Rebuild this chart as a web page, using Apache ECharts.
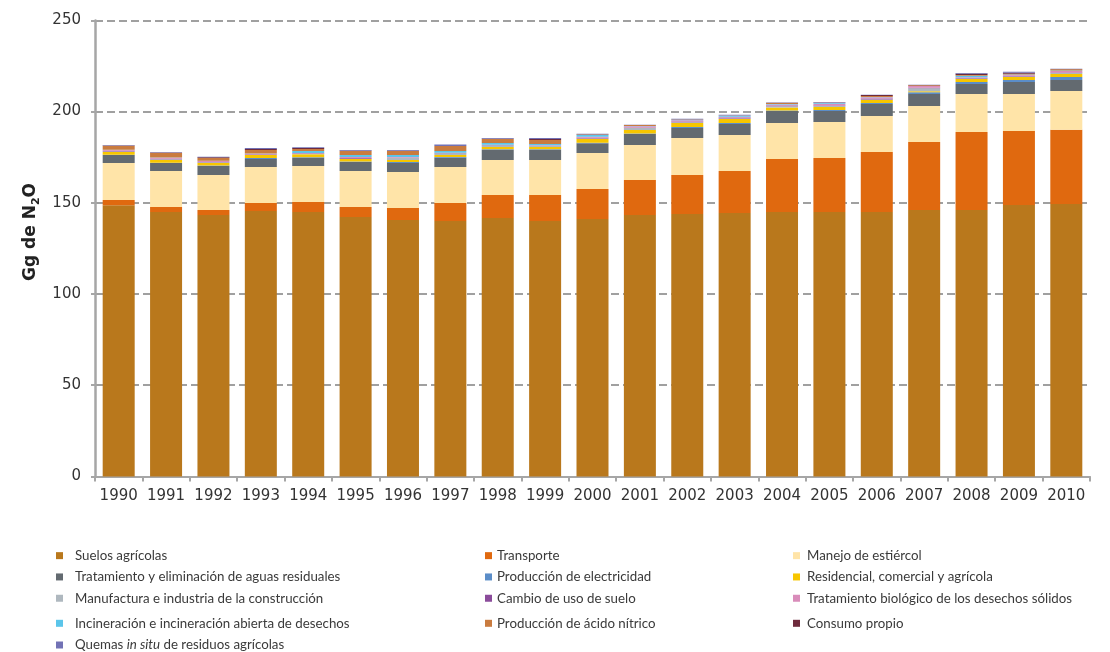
<!DOCTYPE html>
<html>
<head>
<meta charset="utf-8">
<script src="https://cdn.jsdelivr.net/npm/echarts@6/dist/echarts.min.js"></script>
<style>
  html, body { margin: 0; padding: 0; background: #fff; }
  #chart { width: 1110px; height: 652px; }
</style>
</head>
<body>
<div id="chart"></div>
<script>
  // años del inventario
  const years = ['1990','1991','1992','1993','1994','1995','1996','1997','1998','1999','2000',
                 '2001','2002','2003','2004','2005','2006','2007','2008','2009','2010'];

  // Gg de N2O por fuente (de abajo hacia arriba en la pila)
  const suelos = [148.6,145.0,143.3,145.5,145.0,142.2,140.6,140.0,141.7,140.0,141.1,143.3,143.9,144.4,145.0,145.0,145.0,146.1,146.1,148.8,149.3];
  const transporte = [2.9,2.7,2.8,4.4,5.4,5.5,6.5,9.9,12.6,14.3,16.5,19.2,21.3,23.0,29.0,29.6,32.9,37.2,42.7,40.6,40.7];
  const estiercol = [20.3,19.7,19.1,19.7,19.8,19.7,19.8,19.7,19.2,19.2,19.7,19.2,20.3,19.8,19.8,19.7,19.7,19.8,20.8,20.2,21.3];
  const aguas = [4.4,4.4,5.0,4.4,4.4,5.0,4.9,5.1,5.5,5.5,5.3,6.0,5.5,6.0,6.5,6.0,6.6,6.5,5.5,6.6,6.0];
  const electricidad = [0.2,0.2,0.2,0.5,0.4,0.2,0.5,0.4,0.3,0.3,0.3,0.3,0.6,0.5,0.3,0.6,0.5,1.0,1.1,1.1,1.7];
  const residencial = [1.4,1.5,1.4,1.7,1.6,1.4,1.2,1.1,1.3,1.3,2.1,1.9,2.2,2.3,1.6,1.6,1.6,0.6,1.7,1.7,1.6];
  const manufactura = [0.3,0.4,0.4,0.2,0.3,0.2,1.2,1.0,1.0,0.6,0.2,1.1,0.3,0.2,0.8,0.6,0.3,1.6,0.2,0.2,0.5];
  const cambioUso = [0.4,0.2,0.2,0.2,0.2,0.4,0.1,0.1,0.1,0.1,0.5,0.1,0.5,0.5,0.3,0.3,0.6,0.3,0.3,0.4,0.3];
  const biologico = [0.5,0.6,0.5,0.3,0.2,0.5,0.3,0.1,0.1,0.2,0.5,0.9,0.6,0.5,0.6,0.9,0.6,0.9,0.5,0.5,0.9];
  const incineracion = [0.1,0.1,0.1,0.1,1.1,1.1,1.1,1.0,1.0,0.7,1.0,0.1,0.4,0.5,0.2,0.4,0.2,0.1,0.8,0.3,0.2];
  const acidoNitrico = [2.2,2.7,1.5,2.0,1.1,2.2,2.2,2.7,2.2,2.2,0.3,0.5,0.1,0.1,0.6,0.2,0.5,0.4,0.4,0.4,0.7];
  const consumoPropio = [0.1,0.1,0.5,0.5,0.6,0.1,0.1,0.1,0.1,0.6,0.1,0.1,0.1,0.1,0.1,0.1,0.6,0.1,0.6,0.5,0.1];
  const quemas = [0.3,0.3,0.3,0.5,0.4,0.5,0.5,0.7,0.4,0.5,0.2,0.1,0.3,0.4,0.2,0.3,0.2,0.1,0.5,0.5,0.2];

  const sources = [
    ['Suelos agrícolas', suelos, '#B9781C'],
    ['Transporte', transporte, '#E0690F'],
    ['Manejo de estiércol', estiercol, '#FFE4A8'],
    ['Tratamiento y eliminación de aguas residuales', aguas, '#636A70'],
    ['Producción de electricidad', electricidad, '#5B8DC8'],
    ['Residencial, comercial y agrícola', residencial, '#F7C600'],
    ['Manufactura e industria de la construcción', manufactura, '#AFB8BF'],
    ['Cambio de uso de suelo', cambioUso, '#8B4C9B'],
    ['Tratamiento biológico de los desechos sólidos', biologico, '#D98CBA'],
    ['Incineración e incineración abierta de desechos', incineracion, '#5BC5EA'],
    ['Producción de ácido nítrico', acidoNitrico, '#C97B3F'],
    ['Consumo propio', consumoPropio, '#6E2A3C'],
    ['Quemas in situ de residuos agrícolas', quemas, '#7272B5']
  ];
  const names = sources.map(s => s[0]);

  const legendFmt = name => name === names[12]
    ? '{n|Quemas }{i|in situ}{n| de residuos agrícolas}'
    : name;

  function makeLegend(data, left, top, lineHeight, pad) {
    const base = { fontFamily: 'Lato', fontSize: 13.3, color: '#3a3a3a', lineHeight: lineHeight };
    return {
      data: data,
      orient: 'vertical',
      left: left,
      top: top,
      padding: 0,
      itemWidth: 7,
      itemHeight: 7,
      itemGap: 0,
      icon: 'rect',
      selectedMode: false,
      textStyle: Object.assign({}, base, {
        padding: [0, 0, 0, pad],
        rich: {
          n: base,
          i: Object.assign({}, base, { fontStyle: 'italic' })
        }
      }),
      formatter: legendFmt
    };
  }

  // tres columnas; la cuarta y quinta fila van un poco más abajo
  const legends = [
    makeLegend([names[0], names[3], names[6]], 56, 545, 21.3, 7),
    makeLegend([names[1], names[4], names[7]], 485, 545, 21.3, 0),
    makeLegend([names[2], names[5], names[8]], 793, 545, 21.3, 2),
    makeLegend([names[9]], 56, 616.3, 14, 7),
    makeLegend([names[10]], 485, 616.3, 14, 0),
    makeLegend([names[11]], 793, 616.3, 14, 2),
    makeLegend([names[12]], 56, 638, 14, 7)
  ];

  const chart = echarts.init(document.getElementById('chart'));
  chart.setOption({
    animation: false,
    grid: { left: 95, right: 20, top: 20.4, bottom: 175.6, containLabel: false },
    legend: legends,
    xAxis: {
      type: 'category',
      data: years,
      axisLine: { lineStyle: { color: '#A6A6A6', width: 2 } },
      axisTick: { show: true, length: 5, lineStyle: { color: '#A6A6A6', width: 2 } },
      axisLabel: { interval: 0, fontFamily: 'DejaVu Sans', fontSize: 15, color: '#333', margin: 12 }
    },
    yAxis: {
      type: 'value',
      min: 0,
      max: 250,
      interval: 50,
      axisLine: { show: true, lineStyle: { color: '#A6A6A6', width: 2.5 } },
      axisTick: { show: true, length: 4, lineStyle: { color: '#A6A6A6', width: 2 } },
      axisLabel: { fontFamily: 'DejaVu Sans', fontSize: 15, color: '#333', margin: 14 },
      splitLine: { lineStyle: { color: '#A0A0A0', width: 2, type: [8, 4] } }
    },
    graphic: [{
      type: 'text',
      x: 31,
      y: 232,
      rotation: Math.PI / 2,
      style: {
        text: '{n|Gg de N}{s|2}{n|O}',
        textAlign: 'center',
        textVerticalAlign: 'middle',
        rich: {
          n: { fontFamily: 'DejaVu Sans', fontSize: 17, fontWeight: 'bold', fill: '#222', lineHeight: 22 },
          s: { fontFamily: 'DejaVu Sans', fontSize: 11, fontWeight: 'bold', fill: '#222', verticalAlign: 'bottom' }
        }
      }
    }],
    series: sources.map(s => ({
      name: s[0],
      type: 'bar',
      stack: 'total',
      barWidth: 32,
      data: s[1],
      itemStyle: { color: s[2] }
    }))
  });
</script>
</body>
</html>
